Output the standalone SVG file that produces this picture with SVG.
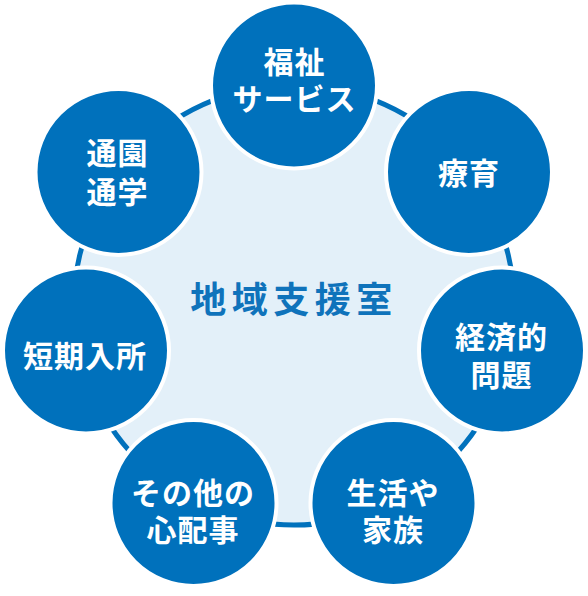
<svg xmlns="http://www.w3.org/2000/svg" width="588" height="596" viewBox="0 0 588 596">
<style>
.node circle{fill:#0071bc;stroke:#ffffff;stroke-width:4}
.node text{fill:#ffffff;font-family:"Noto Sans CJK JP","Noto Sans CJK SC",sans-serif;font-weight:700;font-size:30px;letter-spacing:1px;text-anchor:middle}
.hub{fill:#e3f0f9;stroke:#0071bc;stroke-width:5}
.hubtext{fill:#0f73bb;font-family:"Noto Sans CJK JP","Noto Sans CJK SC",sans-serif;font-weight:700;font-size:36px;letter-spacing:5.5px;text-anchor:middle}
</style>
<rect width="588" height="596" fill="#ffffff"/>
<g id="connectors">
<circle class="hub" cx="294" cy="305" r="220"/>
</g>
<g id="center">
<text class="hubtext" x="294" y="312.5">地域支援室</text>
</g>
<g id="node-fukushi" class="node">
<circle cx="294" cy="85.5" r="83"/>
<text><tspan x="294.5" y="73">福祉</tspan><tspan x="294.5" y="110">サービス</tspan></text>
</g>
<g id="node-ryoiku" class="node">
<circle cx="469" cy="172" r="83"/>
<text x="469" y="184">療育</text>
</g>
<g id="node-keizai" class="node">
<circle cx="502" cy="350.5" r="83"/>
<text><tspan x="501.5" y="347.5">経済的</tspan><tspan x="501.5" y="385.5">問題</tspan></text>
</g>
<g id="node-seikatsu" class="node">
<circle cx="393.5" cy="503" r="83"/>
<text><tspan x="393" y="503.5">生活や</tspan><tspan x="393" y="540.5">家族</tspan></text>
</g>
<g id="node-sonota" class="node">
<circle cx="193.5" cy="503" r="83"/>
<text><tspan x="193" y="504">その他の</tspan><tspan x="193" y="540.5">心配事</tspan></text>
</g>
<g id="node-tanki" class="node">
<circle cx="86" cy="350.5" r="83"/>
<text x="85" y="366.5">短期入所</text>
</g>
<g id="node-tsuen" class="node">
<circle cx="118.5" cy="172" r="83"/>
<text><tspan x="117.5" y="164">通園</tspan><tspan x="117.5" y="203">通学</tspan></text>
</g>
</svg>
